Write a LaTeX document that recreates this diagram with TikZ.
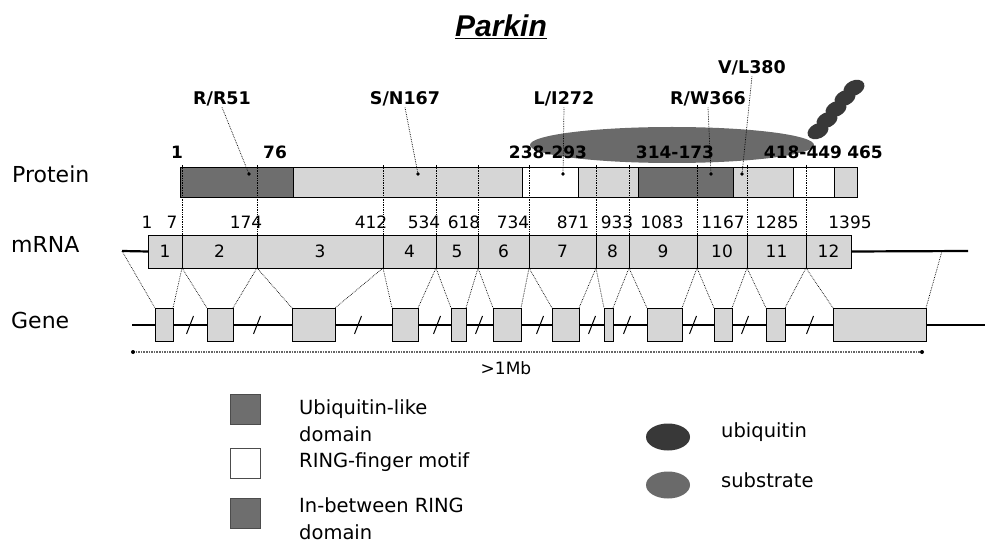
\documentclass[tikz,border=0pt]{standalone}
\usepackage{fontspec}
\setmainfont{DejaVu Sans}
\newfontfamily\titlefont{Liberation Sans}
\usetikzlibrary{shapes.geometric}
\definecolor{Dark}{HTML}{6E6E6E}
\definecolor{Light}{HTML}{D6D6D6}
\definecolor{Subst}{HTML}{6A6A6A}
\definecolor{Ubq}{HTML}{383838}

\begin{document}
\begin{tikzpicture}[x=1pt,y=-1pt,
    seg/.style={draw=black,line width=0.8pt,inner sep=0pt,outer sep=0pt,minimum height=30},
    exon/.style={draw=black,fill=Light,line width=0.8pt,inner sep=0pt,outer sep=0pt,
      minimum height=33,font=\fontsize{17}{20}\selectfont},
    gexon/.style={exon,fill=Light},
    mut/.style={font=\bfseries\fontsize{17.5}{20}\selectfont,inner sep=1pt},
    aapos/.style={font=\bfseries\fontsize{17}{20}\selectfont,inner sep=0pt},
    num/.style={font=\fontsize{17}{20}\selectfont,inner sep=0pt},
    rowlabel/.style={font=\fontsize{22}{26}\selectfont,anchor=west,inner sep=0pt},
    legtext/.style={font=\fontsize{19.5}{27}\selectfont,anchor=west,align=left,inner sep=0pt},
    legbox/.style={draw=black!70,line width=0.6pt,minimum width=30,minimum height=30,inner sep=0pt},
    link/.style={densely dotted,line width=0.7pt},
    ubq/.style={ellipse,fill=Ubq,inner sep=0pt,minimum width=22,minimum height=15},
    slash/.style={line width=1pt}
  ]
  \useasboundingbox (0,0) rectangle (985,545);

  % title
  \node[font=\titlefont\bfseries\itshape\fontsize{30}{34}\selectfont] (title) at (501,27) {\underline{Parkin}};

  % row labels
  \node[rowlabel] (lProt) at (12,174) {Protein};
  \node[rowlabel] (lRna) at (11,244) {mRNA};
  \node[rowlabel] (lGene) at (11,320) {Gene};

  % substrate and ubiquitin chain
  \node[ellipse,fill=Subst,minimum width=284,minimum height=36,inner sep=0pt] (subs) at (672,145) {};
  \foreach \n/\x/\y in {1/818/131,2/827/120,3/836/109,4/845/98,5/854/88}
    \node[ubq,rotate=25] (u\n) at (\x,\y) {};

  % protein
  \foreach \n/\a/\b/\c in {1/180/293/Dark,2/293/522/Light,3/522/578/white,4/578/638/Light,
      5/638/733/Dark,6/733/793/Light,7/793/834/white,8/834/857/Light}
    \node[seg,fill=\c,minimum width=\b-\a] (p\n) at ({(\a+\b)/2},182) {};
  \foreach \n/\t/\x in {1/1/177,2/76/275,3/238-293/548,4/314-173/675,5/418-449/803,6/465/865}
    \node[aapos] (aa\n) at (\x,152) {\t};

  % mRNA
  \coordinate (mL) at (122,251);
  \coordinate (mR) at (968,251);
  \coordinate (mRx) at (942,251);
  \foreach \n/\a/\b in {1/148/182,2/182/257,3/257/383,4/383/436,5/436/478,6/478/529,
      7/529/596,8/596/629,9/629/697,10/697/747,11/747/806,12/806/851}
    \node[exon,minimum width=\b-\a] (m\n) at ({(\a+\b)/2},251.5) {\n};
  \draw[line width=2.2pt] (mL) -- (m1.west);
  \draw[line width=2.2pt] (m12.east) -- (mR);
  \foreach \t/\x in {1/147,7/172,174/246,412/371,534/424,618/464,734/513,871/573,
      933/617,1083/662,1167/723,1285/777,1395/850}
    \node[num] (nt\t) at (\x,222) {\t};

  % exon borders up to the protein
  \coordinate (ptop) at (0,164);
  \foreach \i in {1,...,11}
    \draw[link] (m\i.north east) -- (m\i.north east |- ptop);

  % mutations
  \node[mut] (mRR) at (222,99) {R/R51};
  \node[mut] (mSN) at (405,99) {S/N167};
  \node[mut] (mLI) at (564,99) {L/I272};
  \node[mut] (mRW) at (708,99) {R/W366};
  \node[mut] (mVL) at (752,68) {V/L380};
  \foreach \m/\x in {RR/249,SN/418,LI/563,RW/711,VL/742} {
    \coordinate (s\m) at (\x,174);
    \draw[link] (m\m.south) -- (s\m);
    \fill (s\m) circle (1.8);
  }

  % gene
  \coordinate (gL) at (132,325);
  \coordinate (gR) at (985,325);
  \draw[line width=1.2pt] (gL) -- (gR);
  \foreach \x in {190,257,358,437,479,540,592,627,693,745,810}
    \draw[slash] (\x-3.5,334) -- (\x+3.5,316);
  \foreach \n/\a/\b in {1/155/173,2/207/233,3/292/335,4/392/418,5/451/466,6/493/521,
      7/552/579,8/604/613,9/647/682,10/714/732,11/766/785,12/833/926}
    \node[gexon,minimum width=\b-\a] (g\n) at ({(\a+\b)/2},324.5) {};

  % splicing
  \draw[link] (mL) -- (g1.north west);
  \foreach \i [evaluate=\i as \j using int(\i+1)] in {1,...,11} {
    \draw[link] (m\i.south east) -- (g\i.north east);
    \draw[link] (m\i.south east) -- (g\j.north west);
  }
  \draw[link] (mRx) -- (g12.north east);

  % size bar
  \coordinate (sbL) at (133,352);
  \coordinate (sbR) at (922,352);
  \draw[densely dotted,line width=1.6pt,black!60] (sbL) -- (sbR);
  \fill (sbL) circle (2);
  \fill (sbR) circle (2);
  \node[num] (sbText) at (506,368) {>1Mb};

  % legend
  \node[legbox,fill=Dark] (lgUbl) at (245,409) {};
  \node[legtext] (txUbl) at (299,421) {Ubiquitin-like\\domain};
  \node[legbox,fill=white] (lgRing) at (245,463) {};
  \node[legtext] (txRing) at (299,462) {RING-finger motif};
  \node[legbox,fill=Dark] (lgIbr) at (245,513) {};
  \node[legtext] (txIbr) at (299,519) {In-between RING\\domain};
  \node[ubq,minimum width=44,minimum height=27] (lgUb) at (668,437) {};
  \node[legtext] (txUb) at (721,432) {ubiquitin};
  \node[ellipse,fill=Subst,inner sep=0pt,minimum width=44,minimum height=27] (lgSub) at (668,485) {};
  \node[legtext] (txSub) at (721,480) {substrate};
\end{tikzpicture}
\end{document}
